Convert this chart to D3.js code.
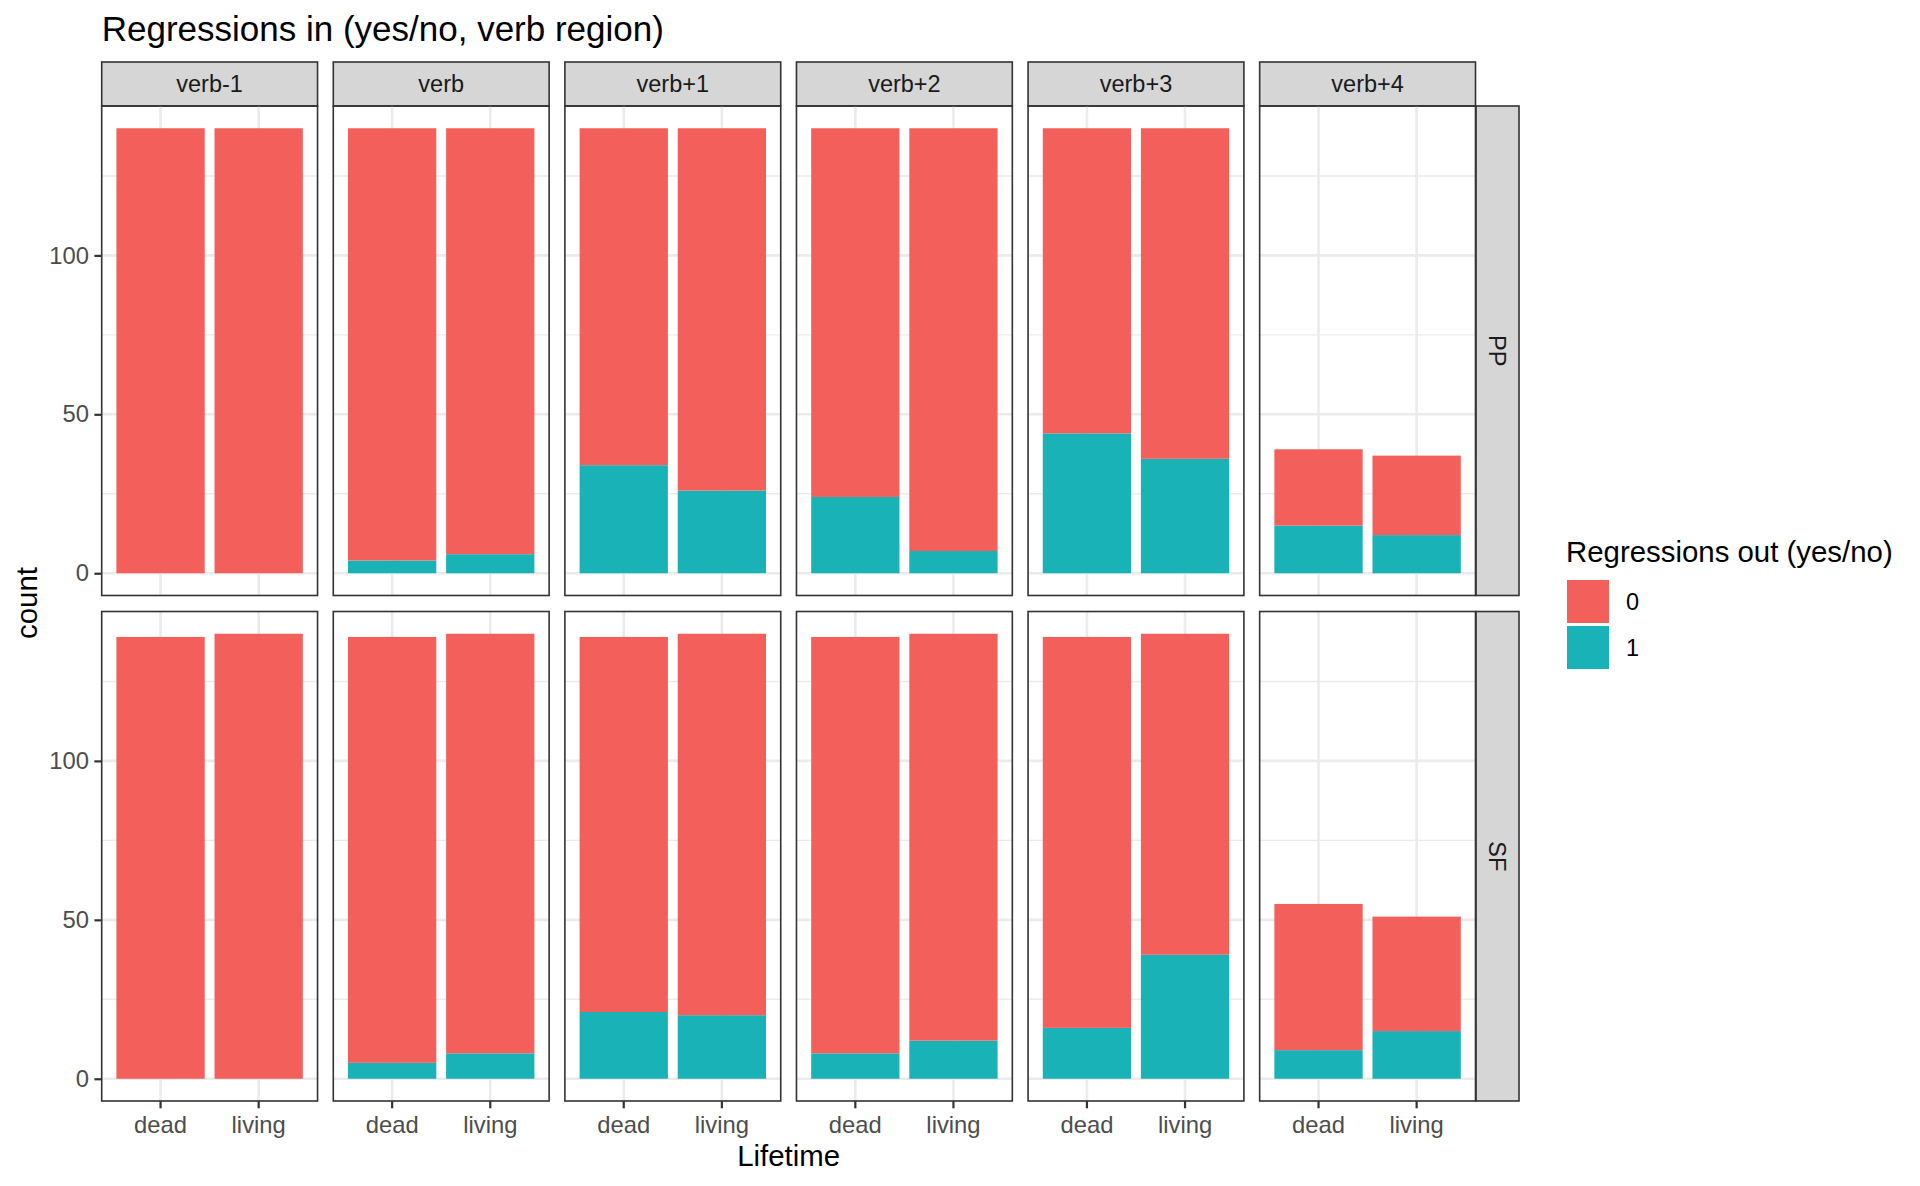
<!DOCTYPE html>
<html>
<head>
<meta charset="utf-8">
<script src="https://cdn.jsdelivr.net/npm/d3@7"></script>
<style>
  body { margin: 0; background: #fff; }
  text { font-family: "Liberation Sans", Arial, sans-serif; }
</style>
</head>
<body>
<script>
// facet columns / rows and categories
var regions = ["verb-1", "verb", "verb+1", "verb+2", "verb+3", "verb+4"];
var sentenceTypes = ["PP", "SF"];
var lifetimes = ["dead", "living"];
var outLevels = ["0", "1"];

// bar totals per region, [dead, living]
var ppTotal = [[140, 140], [140, 140], [140, 140], [140, 140], [140, 140], [39, 37]];
var sfTotal = [[139, 140], [139, 140], [139, 140], [139, 140], [139, 140], [55, 51]];
// count with regressions out = 1, [dead, living]
var ppOut1 = [[0, 0], [4, 6], [34, 26], [24, 7], [44, 36], [15, 12]];
var sfOut1 = [[0, 0], [5, 8], [21, 20], [8, 12], [16, 39], [9, 15]];

var yTicks = [0, 50, 100];
var yMinor = [25, 75, 125];

var width = 1920, height = 1186;
var colors = { "0": "#F35F5B", "1": "#19B3B7" };

var svg = d3.select("body").append("svg")
    .attr("width", width)
    .attr("height", height);

// outer facet scales
var colScale = d3.scaleBand().domain(regions).range([101.7, 1475.5]).paddingInner(0.068);
var rowScale = d3.scaleBand().domain(sentenceTypes).range([106, 1101]).paddingInner(0.0317);
var pw = colScale.bandwidth(), ph = rowScale.bandwidth();

var x = d3.scaleBand().domain(lifetimes).range([0, pw]).paddingInner(0.1).paddingOuter(0.15);
var yMax = 140;
var y = d3.scaleLinear().domain([-0.05 * yMax, 1.05 * yMax]).range([ph, 0]);

var totals = { PP: ppTotal, SF: sfTotal };
var out1 = { PP: ppOut1, SF: sfOut1 };

// title
svg.append("text")
    .attr("x", 101.7).attr("y", 40.5)
    .style("font-size", "35px").style("fill", "#000")
    .text("Regressions in (yes/no, verb region)");

// top strips
regions.forEach(function (r) {
    var g = svg.append("g").attr("transform", "translate(" + colScale(r) + ",62)");
    g.append("rect").attr("width", pw).attr("height", 44)
        .style("fill", "#D6D6D6").style("stroke", "#333").style("stroke-width", 1.6);
    g.append("text").attr("x", pw / 2).attr("y", 22).attr("dy", "0.35em")
        .attr("text-anchor", "middle").style("font-size", "23.5px").style("fill", "#1A1A1A")
        .text(r);
});

// right strips
sentenceTypes.forEach(function (s) {
    var g = svg.append("g").attr("transform", "translate(1476," + rowScale(s) + ")");
    g.append("rect").attr("width", 43).attr("height", ph)
        .style("fill", "#D6D6D6").style("stroke", "#333").style("stroke-width", 1.6);
    g.append("text").attr("transform", "translate(21.5," + (ph / 2) + ") rotate(90)")
        .attr("dy", "0.35em").attr("text-anchor", "middle")
        .style("font-size", "23.5px").style("fill", "#1A1A1A")
        .text(s);
});

sentenceTypes.forEach(function (s) {
    regions.forEach(function (r, ri) {
        var g = svg.append("g")
            .attr("transform", "translate(" + colScale(r) + "," + rowScale(s) + ")");

        // grid
        g.selectAll(".minor").data(yMinor).enter().append("line")
            .attr("x1", 0).attr("x2", pw)
            .attr("y1", function (d) { return y(d); }).attr("y2", function (d) { return y(d); })
            .style("stroke", "#EBEBEB").style("stroke-width", 1.4);
        g.selectAll(".major").data(yTicks).enter().append("line")
            .attr("x1", 0).attr("x2", pw)
            .attr("y1", function (d) { return y(d); }).attr("y2", function (d) { return y(d); })
            .style("stroke", "#EBEBEB").style("stroke-width", 2.6);
        g.selectAll(".vgrid").data(lifetimes).enter().append("line")
            .attr("x1", function (d) { return x(d) + x.bandwidth() / 2; })
            .attr("x2", function (d) { return x(d) + x.bandwidth() / 2; })
            .attr("y1", 0).attr("y2", ph)
            .style("stroke", "#EBEBEB").style("stroke-width", 2.6);

        // stacked bars: 1 at bottom, 0 on top
        lifetimes.forEach(function (l, li) {
            var tot = totals[s][ri][li], one = out1[s][ri][li];
            var stack = [
                { level: "1", y0: 0, y1: one },
                { level: "0", y0: one, y1: tot }
            ];
            g.selectAll(".bar-" + l).data(stack).enter().append("rect")
                .attr("x", x(l))
                .attr("width", x.bandwidth())
                .attr("y", function (d) { return y(d.y1); })
                .attr("height", function (d) { return y(d.y0) - y(d.y1); })
                .style("fill", function (d) { return colors[d.level]; });
        });

        // panel border
        g.append("rect").attr("width", pw).attr("height", ph)
            .style("fill", "none").style("stroke", "#333").style("stroke-width", 1.6);

        // y axis on first column
        if (ri === 0) {
            var ya = g.append("g").call(d3.axisLeft(y).tickValues(yTicks).tickSize(7.3).tickPadding(5.5));
            ya.select(".domain").remove();
            ya.selectAll(".tick line").style("stroke", "#333").style("stroke-width", 2.2);
            ya.selectAll(".tick text").style("font-size", "23.8px").style("fill", "#4D4D4D")
                .style("font-family", "Liberation Sans, Arial, sans-serif");
        }
        // x axis on bottom row
        if (s === "SF") {
            var xa = g.append("g").attr("transform", "translate(0," + ph + ")")
                .call(d3.axisBottom(x).tickSize(7.3).tickPadding(7.5));
            xa.select(".domain").remove();
            xa.selectAll(".tick line").style("stroke", "#333").style("stroke-width", 2.2);
            xa.selectAll(".tick text").style("font-size", "23.8px").style("fill", "#4D4D4D")
                .style("font-family", "Liberation Sans, Arial, sans-serif");
        }
    });
});

// axis titles
svg.append("text")
    .attr("x", (101.7 + 1475.5) / 2).attr("y", 1166)
    .attr("text-anchor", "middle").style("font-size", "29.4px").style("fill", "#000")
    .text("Lifetime");
svg.append("text")
    .attr("transform", "translate(37,603) rotate(-90)")
    .attr("text-anchor", "middle").style("font-size", "29.4px").style("fill", "#000")
    .text("count");

// legend
var legend = svg.append("g").attr("transform", "translate(1566,0)");
legend.append("text").attr("x", 0).attr("y", 562)
    .style("font-size", "29.4px").style("fill", "#000")
    .text("Regressions out (yes/no)");
var keys = legend.selectAll(".key").data(outLevels).enter().append("g")
    .attr("transform", function (d, i) { return "translate(0," + (580 + i * 46) + ")"; });
keys.append("rect").attr("x", 1).attr("width", 42).attr("height", 43)
    .style("fill", function (d) { return colors[d]; });
keys.append("text").attr("x", 60).attr("y", 22).attr("dy", "0.35em")
    .style("font-size", "23.5px").style("fill", "#000")
    .text(function (d) { return d; });
</script>
</body>
</html>
